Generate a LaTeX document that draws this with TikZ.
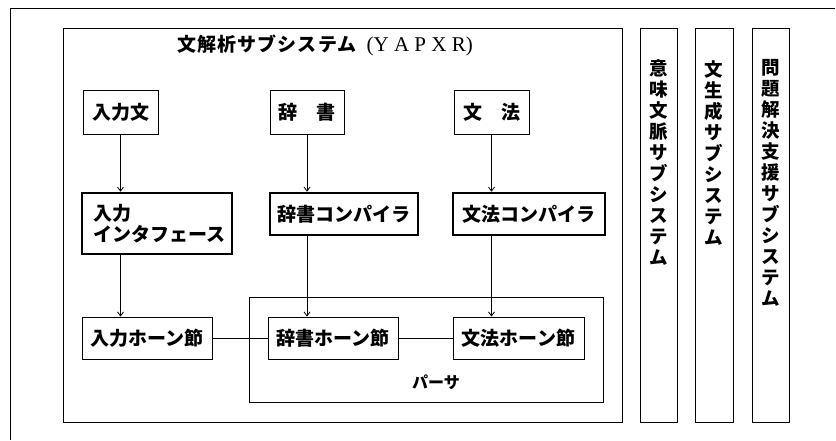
\documentclass[tikz,border=0pt]{standalone}
\usepackage{fontspec}
\newfontfamily\jp{Noto Sans CJK JP}
\newfontfamily\lser{Liberation Serif}
\usetikzlibrary{arrows.meta}
\tikzset{
  box/.style={draw, line width=1pt, inner sep=0pt, font={\jp\bfseries\fontsize{19}{21}\selectfont}},
  thickbox/.style={box, line width=2.6pt},
  frame/.style={draw, line width=1pt},
  vtext/.style={anchor=north, align=center, inner sep=0pt, font={\jp\bfseries\fontsize{18.5}{21}\selectfont}},
  arr/.style={line width=0.8pt, -{Straight Barb[length=4pt,width=6pt]}},
  link/.style={line width=0.8pt}
}
\begin{document}
\begin{tikzpicture}[x=1pt,y=-1pt]
\useasboundingbox (0,0) rectangle (836,440);
% outer frame (cropped: only top and left edges visible)
\coordinate (ftl) at (10,8);
\coordinate (ftr) at (835,8);
\coordinate (fbl) at (10,440);
\draw[line width=1pt] (ftr) -- (ftl) -- (fbl);
% main subsystem box
\node[frame, minimum width=559pt, minimum height=394pt, inner sep=0pt] (main) at (342.5,225) {};
\node[inner sep=0pt] (title) at (325,45) {{\jp\bfseries\fontsize{19}{21}\selectfont\addfontfeature{LetterSpace=6}文解析サブシステム}\hspace{10pt}{\lser\fontsize{21}{22}\selectfont (Y A P X R)}};
% parser box
\node[frame, minimum width=354pt, minimum height=105pt, inner sep=0pt] (parser) at (426,349.5) {};
\node[font={\jp\bfseries\fontsize{16}{18}\selectfont}] (plabel) at (436,382) {パーサ};
% top row
\node[box, minimum width=75pt, minimum height=44pt] (in) at (120.5,112) {入力文};
\node[box, minimum width=74pt, minimum height=44pt] (dic) at (307,112) {辞\hspace{19pt}書};
\node[box, minimum width=75pt, minimum height=44pt] (gram) at (491.5,112) {文\hspace{19pt}法};
% middle row
\node[thickbox, minimum width=150pt, minimum height=61pt, align=left, text width=128pt] (inif) at (157,223.5) {入力\\インタフェース};
\node[thickbox, minimum width=148pt, minimum height=42pt] (diccomp) at (344,214) {辞書コンパイラ};
\node[thickbox, minimum width=152pt, minimum height=42pt] (gramcomp) at (529,214) {文法コンパイラ};
% bottom row
\node[box, minimum width=130pt, minimum height=42pt] (inhorn) at (147,338) {入力ホーン節};
\node[box, minimum width=130pt, minimum height=42pt] (dichorn) at (333,338) {辞書ホーン節};
\node[box, minimum width=131pt, minimum height=42pt] (gramhorn) at (518.5,338) {文法ホーン節};
% arrows
\draw[arr] (in.south) -- (in.south |- inif.north);
\draw[arr] (dic.south) -- (dic.south |- diccomp.north);
\draw[arr] (gram.south) -- (gram.south |- gramcomp.north);
\draw[arr] (in.south |- inif.south) -- (in.south |- inhorn.north);
\draw[arr] (dic.south |- diccomp.south) -- (dic.south |- dichorn.north);
\draw[arr] (gram.south |- gramcomp.south) -- (gram.south |- gramhorn.north);
% links
\draw[link] (inhorn.east) -- (dichorn.west);
\draw[link] (dichorn.east) -- (gramhorn.west);
% right subsystem columns
\node[frame, minimum width=37pt, minimum height=394pt, inner sep=0pt] (s1) at (658.5,225) {};
\node[frame, minimum width=38pt, minimum height=394pt, inner sep=0pt] (s2) at (714,225) {};
\node[frame, minimum width=37pt, minimum height=394pt, inner sep=0pt] (s3) at (770.5,225) {};
\node[vtext] (t1) at (658.5,59) {意\\味\\文\\脈\\サ\\ブ\\シ\\ス\\テ\\ム};
\node[vtext] (t2) at (714,60) {文\\生\\成\\サ\\ブ\\シ\\ス\\テ\\ム};
\node[vtext] (t3) at (770.5,59) {問\\題\\解\\決\\支\\援\\サ\\ブ\\シ\\ス\\テ\\ム};
\end{tikzpicture}
\end{document}
